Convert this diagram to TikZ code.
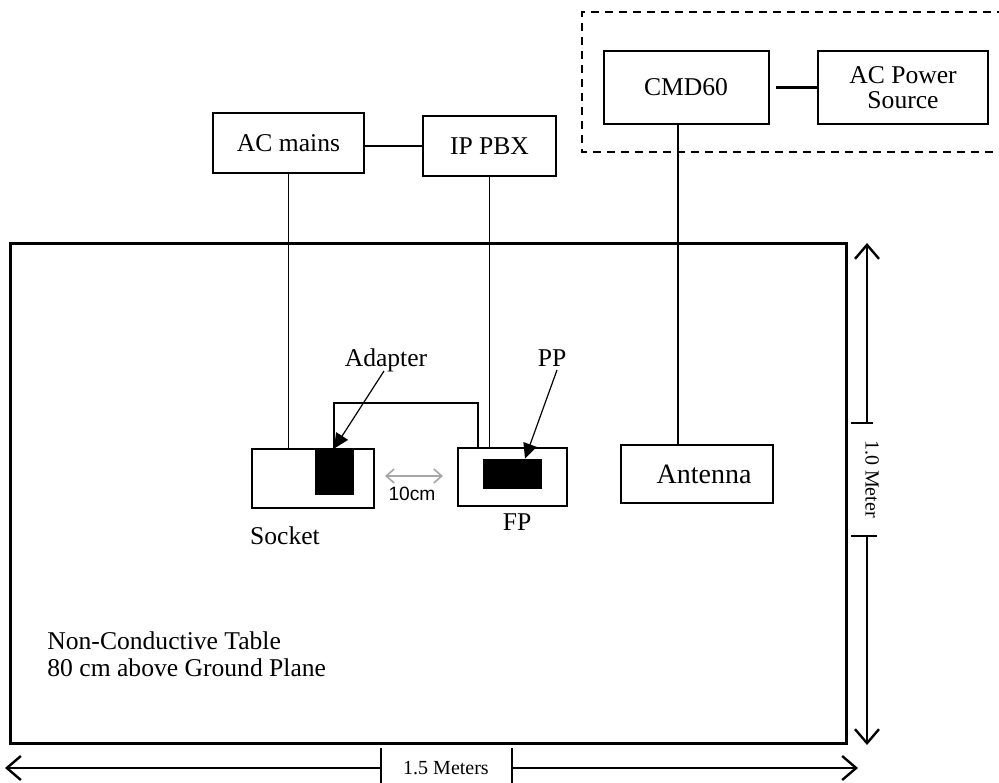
\documentclass[tikz,border=0pt]{standalone}
\usepackage{fontspec}
\setmainfont{Liberation Serif}
\newfontfamily\arialfont{Liberation Sans}
\usetikzlibrary{positioning, arrows.meta}

\begin{document}
\begin{tikzpicture}[x=0.5pt,y=-0.5pt,
  box/.style={draw, line width=1pt, inner sep=0pt, align=center,
    font=\fontsize{12.8}{12.5}\selectfont},
  blk/.style={draw, fill=black, inner sep=0pt},
  lbl/.style={font=\fontsize{12.8}{13.5}\selectfont, inner sep=0pt, anchor=base},
  wire/.style={line width=0.75pt},
  pointer/.style={line width=0.6pt, -{Triangle[length=7.5pt,width=7pt]}},
  dim/.style={line width=0.7pt, -{Straight Barb[length=7pt,width=12pt,line width=1.2pt]}},
  dimlbl/.style={font=\fontsize{10}{12}\selectfont, inner sep=0pt}]

  \useasboundingbox (0,0) rectangle (999,782);

  % table
  \draw[line width=1.5pt] (10,243) rectangle (846,743);
  % test set area
  \draw[line width=0.8pt, dash pattern=on 4pt off 3pt] (1005,12) -- (582,12) -- (582,152) -- (1005,152);

  \node[box, minimum width=82.5pt, minimum height=36.5pt] (CMD60) at (686,87.5) {CMD60};
  \node[box, minimum width=85pt, minimum height=36.5pt] (ACsrc) at (903,87.5) {AC Power\\Source};
  \node[box, minimum width=75.5pt, minimum height=30pt] (ACmains) at (288.5,143) {AC mains};
  \node[box, minimum width=66.5pt, minimum height=30pt] (IPPBX) at (489.5,146) {IP PBX};
  \node[box, minimum width=76pt, minimum height=29pt, font=\fontsize{14}{16}\selectfont] (Antenna) at (697,474) {\hspace{7pt}Antenna};

  \node[box, minimum width=61pt, minimum height=29.5pt] (Socket) at (313,478.5) {};
  \node[box, minimum width=54.5pt, minimum height=29pt] (FP) at (512.5,476.5) {};
  \node[blk, minimum width=19pt, minimum height=22.5pt] (Adapter) at (334,471.5) {};
  \node[blk, minimum width=29pt, minimum height=14.5pt] (PP) at (512,473.5) {};

  \node[lbl] (SocketLbl) at (285,544) {Socket};
  \node[lbl] (FPLbl) at (517,530) {FP};
  \node[lbl] (AdapterLbl) at (386,366) {Adapter};
  \node[lbl] (PPLbl) at (552,366) {PP};
  \node[lbl, anchor=base west, align=left] (TableLbl) at (47,676) {Non-Conductive Table\\80 cm above Ground Plane};

  \path[wire]
    (ACmains.east |- IPPBX.west) edge (IPPBX.west)
    (ACmains.south) edge (ACmains.south |- Socket.north)
    (IPPBX.south) edge (IPPBX.south |- FP.north)
    ([xshift=-4pt]CMD60.south) edge ([xshift=-4pt]CMD60.south |- Antenna.north);
  \draw[line width=1.5pt] ([xshift=3pt]CMD60.east) -- (ACsrc.west);

  \coordinate (bend) at (478,403);
  \draw[wire] (Adapter.north) |- (bend) -- (bend |- FP.north);

  \draw[pointer] (384,371) -- (Adapter.north);
  \draw[pointer] (557,370) -- ([xshift=6.5pt]PP.north);

  % 10 cm gap
  \coordinate (gapL) at (385,476);
  \coordinate (gapR) at (443,476);
  \draw[line width=0.8pt, gray!70, {Straight Barb[length=4pt,width=7pt]}-{Straight Barb[length=4pt,width=7pt]}] (gapL) -- (gapR);
  \node[font=\arialfont\fontsize{9.6}{11}\selectfont, inner sep=0pt] (gapLbl) at (412,494) {10cm};

  % dimensions
  \node[dimlbl] (wLbl) at (446,768) {1.5 Meters};
  \coordinate (wL) at (381,768);
  \coordinate (wR) at (512,768);
  \draw[dim] (wL) -- (5,768);
  \draw[dim] (wR) -- (858,768);
  \draw[line width=0.7pt] ([yshift=10pt]wL) -- ([yshift=-10pt]wL);
  \draw[line width=0.7pt] ([yshift=10pt]wR) -- ([yshift=-10pt]wR);

  \node[dimlbl, rotate=-90] (hLbl) at (872,479) {1.0 Meter};
  \coordinate (hT) at (867,423);
  \coordinate (hB) at (867,536);
  \draw[dim] (hT) -- (867,243);
  \draw[dim] (hB) -- (867,745);
  \draw[line width=0.7pt] ([xshift=-8pt]hT) -- ([xshift=3pt]hT);
  \draw[line width=0.7pt] ([xshift=-8pt]hB) -- ([xshift=5pt]hB);

\end{tikzpicture}
\end{document}
